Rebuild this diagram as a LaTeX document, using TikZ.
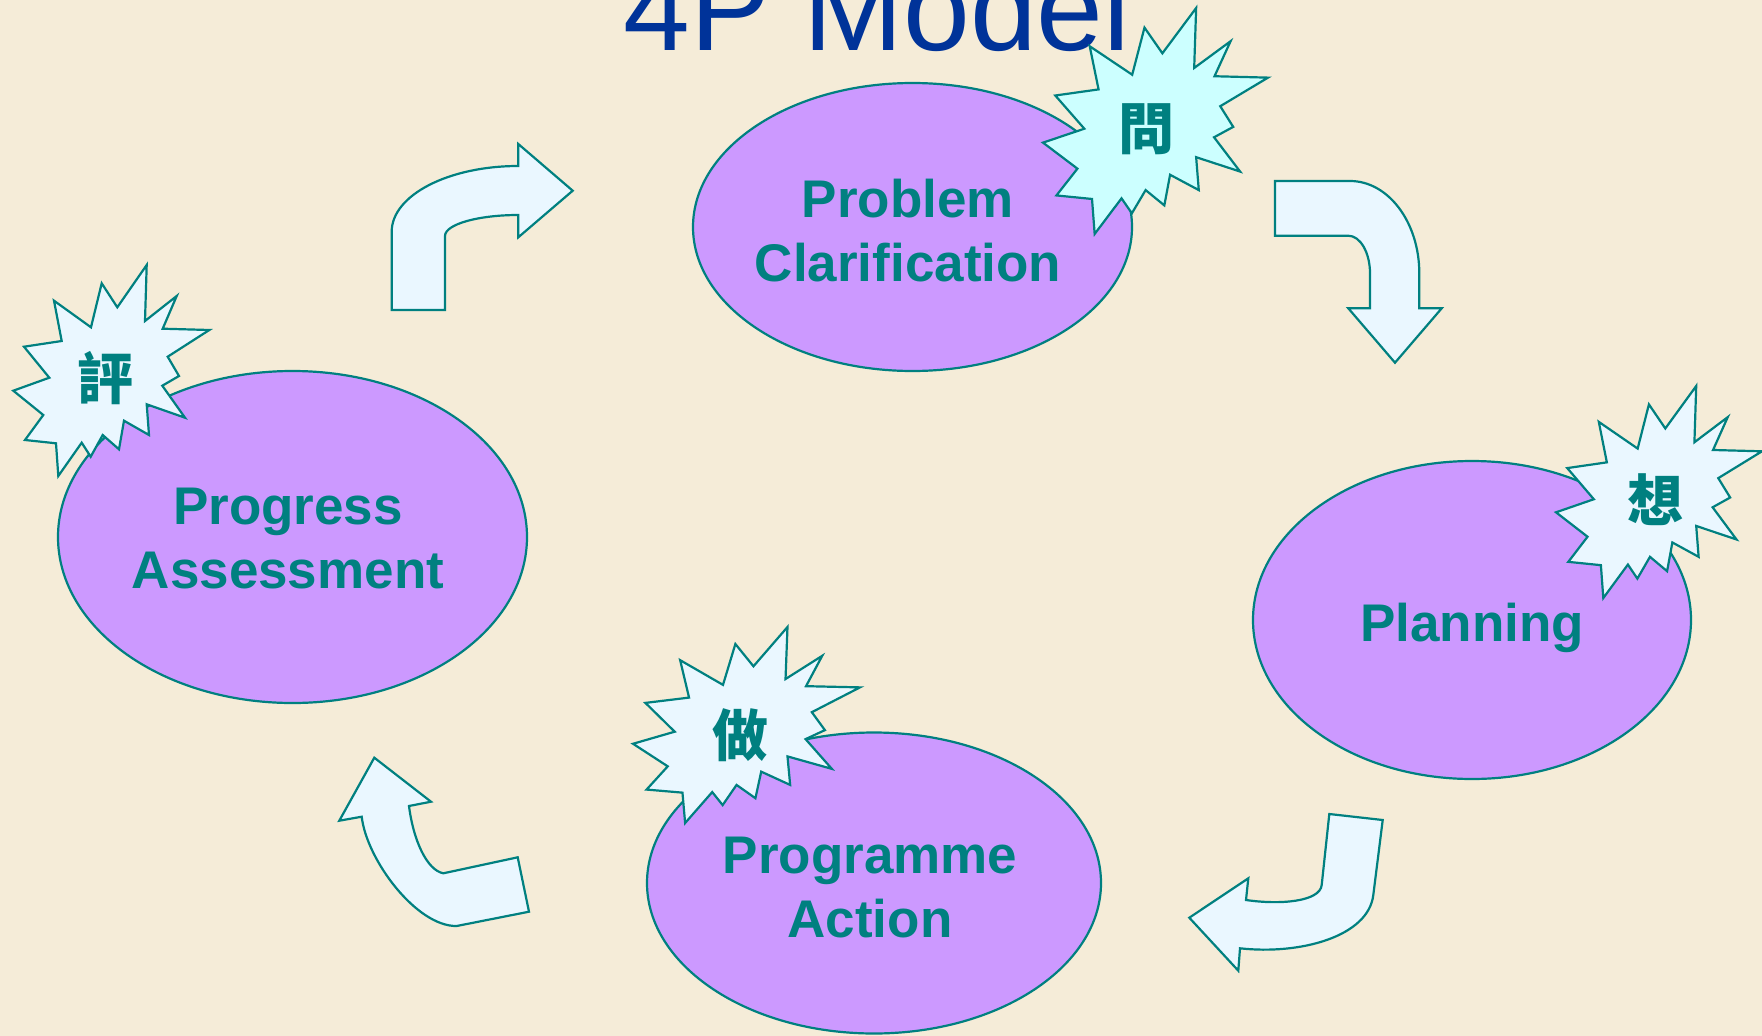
\documentclass[tikz,border=0pt]{standalone}
\usepackage{fontspec}
\setmainfont{Liberation Sans}
\newfontfamily\cjk{Noto Sans CJK TC}
\usetikzlibrary{shapes.geometric}
\definecolor{bg}{RGB}{245,236,216}
\definecolor{tealc}{RGB}{0,128,128}
\definecolor{lav}{RGB}{204,153,255}
\definecolor{pale}{RGB}{234,247,255}
\definecolor{cyanc}{RGB}{204,255,255}
\definecolor{titleblue}{RGB}{0,51,153}
\newcommand\drawseal[5]{%
  \begin{scope}[shift={(#1,#2)},xscale=#3,yscale=#4]
    \draw[sealstyle,fill=#5] (35.4,-105.5) -- (33.7,-49.5) -- (65.4,-74.5) -- (51.4,-41.8) -- (98,-40.5) -- (56.4,-13.8) -- (67.7,5.5) -- (51,15.2) -- (73.7,47.2) -- (35.4,33.8) -- (37.7,64.5) -- (12.7,50.2) -- (7.7,78.8) -- (-8.6,64.5) -- (-20.6,86.2) -- (-29.6,72.2) -- (-53,105.5) -- (-55.3,72.8) -- (-86.3,69.5) -- (-68,44.5) -- (-98,20.2) -- (-62,7.2) -- (-87.3,-23.8) -- (-49.6,-29.5) -- (-57.3,-69.8) -- (-20.3,-43.2) -- (-9.6,-87.2) -- (6,-63.2) -- cycle;
  \end{scope}}
\begin{document}
\begin{tikzpicture}[x=1pt,y=-1pt,
  oval/.style={ellipse,draw=tealc,fill=lav,line width=2.2pt,inner sep=0pt},
  ovaltext/.style={text=tealc,font=\fontsize{53}{64}\selectfont\bfseries,align=center,inner sep=0pt},
  sealstyle/.style={draw=tealc,line width=2.2pt,line join=miter},
  kanji/.style={text=tealc,font=\cjk\bfseries\fontsize{56}{56}\selectfont,inner sep=0pt},
  arr/.style={draw=tealc,fill=pale,line width=2.2pt,line join=miter}]
\fill[bg] (0,0) rectangle (1762,1036);
\useasboundingbox (0,0) rectangle (1762,1036);

\node[text=titleblue,font=\fontsize{120}{120}\selectfont,anchor=base,inner sep=0pt] (title) at (877,50) {4P Model};

\node[oval,minimum width=439pt,minimum height=288pt] (pc) at (912.5,227) {};
\node[ovaltext] (pct) at (908,231) {Problem\\Clarification};
\node[oval,minimum width=438pt,minimum height=318pt] (pl) at (1472,620) {};
\node[ovaltext] (plt) at (1472,628) {Planning};
\node[oval,minimum width=454pt,minimum height=301pt] (pa) at (874,883) {};
\node[ovaltext] (pat) at (870,888) {Programme\\Action};
\node[oval,minimum width=469pt,minimum height=332pt] (ps) at (292.5,537) {};
\node[ovaltext] (pst) at (288,539) {Progress\\Assessment};

\drawseal{1155.5}{121}{1.148}{1.071}{cyanc}
\node[kanji] (k1) at (1146,129) {問};
\drawseal{1659}{492}{1.051}{1.005}{pale}
\node[kanji] (k2) at (1655,500) {想};
\drawseal{746.5}{725}{1.158}{0.929}{pale}
\node[kanji] (k3) at (740,735) {做};
\drawseal{111.3}{370.5}{1}{1}{pale}
\node[kanji] (k4) at (105,378) {評};

% arrows
\draw[arr] (391.7,310) -- (445,310) -- (445,236) .. controls (445,224.3) and (478,215) .. (518.3,215) -- (518.3,237.3) -- (572.7,190.7) -- (518.3,144) -- (518.3,166) .. controls (448.3,166) and (391.7,195.3) .. (391.7,231.7) -- cycle;
\draw[arr] (1275,181) -- (1350,181) .. controls (1388.3,181) and (1419.3,222.3) .. (1419.3,273.3) -- (1419.3,308.3) -- (1441.7,308.3) -- (1395,362.7) -- (1348.3,308.3) -- (1370,308.3) -- (1370,273.3) .. controls (1370,252.7) and (1360.3,235.7) .. (1348.3,235.7) -- (1275,235.7) -- cycle;
\draw[arr] (1329.3,814) -- (1382.7,820) -- (1373.3,895) .. controls (1368.3,936.7) and (1300,955) .. (1240,948.3) -- (1238.3,970.7) -- (1189.3,917.7) -- (1248.3,878.3) -- (1246,900) .. controls (1280,905) and (1320,901.7) .. (1321.7,885) -- cycle;
\draw[arr] (517.7,857.3) -- (529,911.7) -- (456.7,926) .. controls (416.7,926.7) and (366.7,860) .. (361.7,816.7) -- (339.3,820.7) -- (374.3,757.7) -- (431,801.7) -- (409,806) .. controls (413.3,840) and (426.7,870) .. (443.3,873.3) -- cycle;
\end{tikzpicture}
\end{document}
